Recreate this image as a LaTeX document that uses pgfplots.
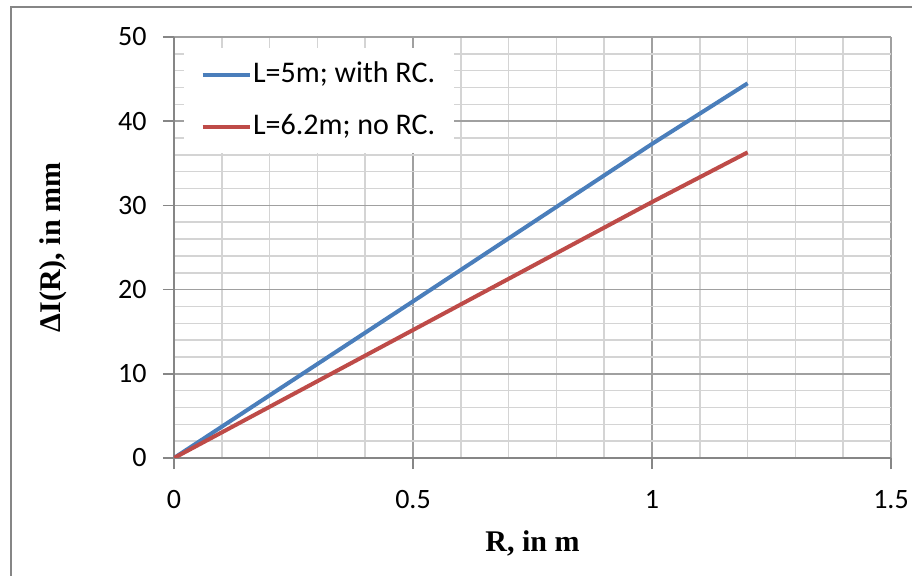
\documentclass[border=0pt]{standalone}
\usepackage{fontspec}
\setmainfont{Carlito}
\newfontfamily\timesf{Liberation Serif}
\usepackage{pgfplots}
\pgfplotsset{compat=1.18}
\definecolor{sblue}{HTML}{4A7EBB}
\definecolor{sred}{HTML}{BE4B48}
\definecolor{majgrid}{HTML}{A0A0A0}
\definecolor{mingrid}{HTML}{D4D4D4}
\definecolor{axisgray}{HTML}{868686}
\begin{document}
\begin{tikzpicture}
\useasboundingbox (0,0) rectangle (364.8pt,230.4pt);
\draw[axisgray, line width=0.8pt] (4.4pt,-5pt) -- (4.4pt,227.6pt) -- (370pt,227.6pt);
\begin{axis}[
  at={(69.6pt,47.2pt)}, anchor=south west,
  scale only axis, width=286.8pt, height=168.4pt,
  xmin=0, xmax=1.5, ymin=0, ymax=50,
  xtick={0,0.5,1,1.5}, ytick={0,10,20,30,40,50},
  minor x tick num=4, minor y tick num=4,
  axis x line=bottom, axis y line=left,
  axis line style={-, axisgray, line width=0.7pt},
  grid=both,
  major grid style={majgrid, line width=0.6pt},
  minor grid style={mingrid, line width=0.6pt},
  tick align=outside, major tick length=4.4pt, minor tick length=0pt,
  tick style={axisgray, line width=0.7pt},
  xtick pos=bottom, ytick pos=left,
  /pgf/number format/assume math mode=true,
  ticklabel style={font=\fontsize{11.2}{13}\selectfont, text=black},
  xticklabel style={anchor=north, inner sep=0pt, yshift=-8.4pt},
  yticklabel style={anchor=east, inner sep=0pt, xshift=-6.4pt},
  xticklabel={\pgfmathprintnumber[fixed]{\tick}},
  xlabel={\timesf\bfseries R, in m},
  ylabel={\timesf\bfseries ΔI(R), in mm},
  label style={font=\fontsize{12}{14}\selectfont},
  xlabel style={at={(axis description cs:0.5,0)}, anchor=center, yshift=-34pt},
  ylabel style={at={(axis description cs:0,0.5)}, anchor=center, rotate=0, yshift=48.4pt},
  legend style={at={(rel axis cs:0.0126,0.974)}, anchor=north west, draw=none, fill=white,
    font=\fontsize{12}{14}\selectfont, inner xsep=6.8pt, inner ysep=3pt,
    nodes={inner xsep=0.6pt, inner ysep=2pt, text height=8.5pt, text depth=2.5pt},
    row sep=5.8pt},
  legend cell align=left,
  legend image code/.code={\draw[#1, line width=1.6pt] (0pt,0pt) -- (18.8pt,0pt);},
]
\addplot[sblue, line width=1.6pt] coordinates {(0,0) (0.5,18.6) (1,37.3) (1.2,44.5)};
\addlegendentry{L=5m; with RC.}
\addplot[sred, line width=1.6pt] coordinates {(0,0) (0.5,15.2) (1,30.4) (1.2,36.3)};
\addlegendentry{L=6.2m; no RC.}
\end{axis}
\end{tikzpicture}
\end{document}
